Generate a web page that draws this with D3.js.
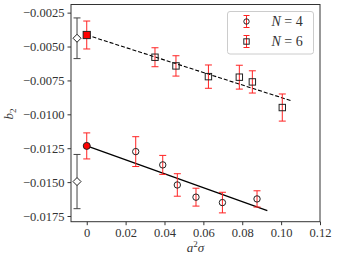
<!DOCTYPE html>
<html>
<head>
<meta charset="utf-8">
<script src="https://cdn.jsdelivr.net/npm/d3@7"></script>
<style>
  body { margin: 0; background: #fff; }
</style>
</head>
<body>
<div id="chart"></div>
<script>
// N = 4 series
const xN4 = [0.0252, 0.0391, 0.0466, 0.0562, 0.0698, 0.0876];
const yN4 = [-0.01275, -0.01373, -0.01521, -0.01611, -0.01651, -0.01624];
const eN4 = [0.0011, 0.0007, 0.00083, 0.00066, 0.00076, 0.0006];
// N = 6 series
const xN6 = [0.0351, 0.0459, 0.0626, 0.0785, 0.0852, 0.1006];
const yN6 = [-0.00579, -0.00643, -0.00722, -0.00726, -0.00761, -0.0095];
const eN6 = [0.0007, 0.00075, 0.00086, 0.00088, 0.00082, 0.001];
// continuum extrapolations (x = 0) and comparison points
const contX = [0, 0];
const contY = [-0.01233, -0.00415];
const contE = [0.00096, 0.00103];
const diaX = [-0.005, -0.005];
const diaY = [-0.01496, -0.00439];
const diaE = [0.002, 0.0015];
// fit lines: [x0, x1], [y0, y1]
const fitX4 = [0, 0.0929];
const fitY4 = [-0.01233, -0.0171];
const fitX6 = [0, 0.105];
const fitY6 = [-0.00415, -0.00899];

const xTicks = [0, 0.02, 0.04, 0.06, 0.08, 0.10, 0.12];
const yTicks = [-0.0025, -0.005, -0.0075, -0.01, -0.0125, -0.015, -0.0175];

const FONT = "'Liberation Serif', 'DejaVu Serif', 'Times New Roman', serif";
const width = 337, height = 260;
const margin = {left: 71, right: 17, top: 4.5, bottom: 38.3};

const svg = d3.select("#chart").append("svg")
    .attr("width", width)
    .attr("height", height)
    .attr("font-family", FONT);

const x = d3.scaleLinear().domain([-0.0081, 0.12]).range([margin.left, width - margin.right]);
const y = d3.scaleLinear().domain([-0.01792, -0.0019]).range([height - margin.bottom, margin.top]);

const fmtY = v => d3.format(".4f")(v).replace("-", "\u2212");
const fmtX = v => v === 0 ? "0" : d3.format(".2f")(v);

svg.append("g")
    .attr("transform", `translate(0,${height - margin.bottom})`)
    .call(d3.axisBottom(x).tickValues(xTicks).tickFormat(fmtX).tickSize(3.5).tickPadding(3))
    .attr("font-family", FONT)
    .call(g => g.select(".domain").remove())
    .call(g => g.selectAll("line").attr("stroke", "#333"))
    .call(g => g.selectAll("text").attr("font-size", 12.5).attr("fill", "#333"));

svg.append("g")
    .attr("transform", `translate(${margin.left},0)`)
    .call(d3.axisLeft(y).tickValues(yTicks).tickFormat(fmtY).tickSize(3.5).tickPadding(3))
    .attr("font-family", FONT)
    .call(g => g.select(".domain").remove())
    .call(g => g.selectAll("line").attr("stroke", "#333"))
    .call(g => g.selectAll("text").attr("font-size", 12.5).attr("fill", "#333"));

svg.append("rect")
    .attr("x", margin.left).attr("y", margin.top)
    .attr("width", width - margin.left - margin.right)
    .attr("height", height - margin.top - margin.bottom)
    .attr("fill", "none").attr("stroke", "#333").attr("stroke-width", 1);

// fit lines
const line = d3.line().x(d => x(d[0])).y(d => y(d[1]));
svg.append("path").datum(d3.zip(fitX4, fitY4))
    .attr("d", line).attr("stroke", "#000").attr("stroke-width", 1.3).attr("fill", "none");
svg.append("path").datum(d3.zip(fitX6, fitY6))
    .attr("d", line).attr("stroke", "#000").attr("stroke-width", 1.1)
    .attr("stroke-dasharray", "4,2").attr("fill", "none");

function errorBars(xs, ys, es, color) {
    const pts = d3.zip(xs, ys, es);
    const g = svg.append("g").attr("stroke", color).attr("stroke-width", 1);
    pts.forEach(([px, py, pe]) => {
        const cx = x(px);
        g.append("line").attr("x1", cx).attr("x2", cx).attr("y1", y(py - pe)).attr("y2", y(py + pe));
        g.append("line").attr("x1", cx - 3.5).attr("x2", cx + 3.5).attr("y1", y(py - pe)).attr("y2", y(py - pe));
        g.append("line").attr("x1", cx - 3.5).attr("x2", cx + 3.5).attr("y1", y(py + pe)).attr("y2", y(py + pe));
    });
}

errorBars(xN4, yN4, eN4, "#f22");
errorBars(xN6, yN6, eN6, "#f22");
errorBars(contX, contY, contE, "#f22");
errorBars(diaX, diaY, diaE, "#444");

// markers
svg.append("g").selectAll("circle").data(d3.zip(xN4, yN4)).join("circle")
    .attr("cx", d => x(d[0])).attr("cy", d => y(d[1])).attr("r", 3.2)
    .attr("fill", "none").attr("stroke", "#222").attr("stroke-width", 1);
svg.append("g").selectAll("rect").data(d3.zip(xN6, yN6)).join("rect")
    .attr("x", d => x(d[0]) - 3.2).attr("y", d => y(d[1]) - 3.2)
    .attr("width", 6.4).attr("height", 6.4)
    .attr("fill", "none").attr("stroke", "#222").attr("stroke-width", 1);

// continuum points
svg.append("circle").attr("cx", x(contX[0])).attr("cy", y(contY[0])).attr("r", 3.5)
    .attr("fill", "#f00").attr("stroke", "#222").attr("stroke-width", 1);
svg.append("rect").attr("x", x(contX[1]) - 3.6).attr("y", y(contY[1]) - 3.6)
    .attr("width", 7.2).attr("height", 7.2)
    .attr("fill", "#f00").attr("stroke", "#222").attr("stroke-width", 1);

svg.append("g").selectAll("path").data(d3.zip(diaX, diaY)).join("path")
    .attr("transform", d => `translate(${x(d[0])},${y(d[1])})`)
    .attr("d", "M0,-4L4,0L0,4L-4,0Z")
    .attr("fill", "#fff").attr("stroke", "#222").attr("stroke-width", 1);

// legend
const lg = svg.append("g").attr("transform", "translate(227.5,11.5)");
lg.append("rect").attr("width", 86).attr("height", 42.5).attr("rx", 2.5)
    .attr("fill", "#fff").attr("stroke", "#ccc").attr("stroke-width", 1);
[["circle", "4"], ["square", "6"]].forEach(([shape, n], i) => {
    const cy = 10 + i * 20, cx = 19;
    lg.append("line").attr("x1", cx).attr("x2", cx).attr("y1", cy - 6).attr("y2", cy + 6).attr("stroke", "#f22");
    lg.append("line").attr("x1", cx - 3).attr("x2", cx + 3).attr("y1", cy - 6).attr("y2", cy - 6).attr("stroke", "#f22");
    lg.append("line").attr("x1", cx - 3).attr("x2", cx + 3).attr("y1", cy + 6).attr("y2", cy + 6).attr("stroke", "#f22");
    if (shape === "circle") {
        lg.append("circle").attr("cx", cx).attr("cy", cy).attr("r", 2.7)
            .attr("fill", "none").attr("stroke", "#222");
    } else {
        lg.append("rect").attr("x", cx - 2.7).attr("y", cy - 2.7).attr("width", 5.4).attr("height", 5.4)
            .attr("fill", "none").attr("stroke", "#222");
    }
    const t = lg.append("text").attr("x", 44).attr("y", cy + 4.5).attr("font-size", 14).attr("fill", "#333");
    t.append("tspan").attr("font-style", "italic").text("N");
    t.append("tspan").text(" = " + n);
});

// axis labels
const xl = svg.append("text").attr("x", (margin.left + width - margin.right) / 2).attr("y", 252)
    .attr("text-anchor", "middle").attr("font-size", 13).attr("fill", "#333");
xl.append("tspan").attr("font-style", "italic").text("a");
xl.append("tspan").attr("font-size", 9).attr("dy", -5).text("2");
xl.append("tspan").attr("font-style", "italic").attr("dy", 5).text("\u03c3");

const yl = svg.append("text").attr("transform", "translate(13,114) rotate(-90)")
    .attr("text-anchor", "middle").attr("font-size", 13).attr("fill", "#333");
yl.append("tspan").attr("font-style", "italic").text("b");
yl.append("tspan").attr("font-size", 9).attr("dy", 3).text("2");
</script>
</body>
</html>
